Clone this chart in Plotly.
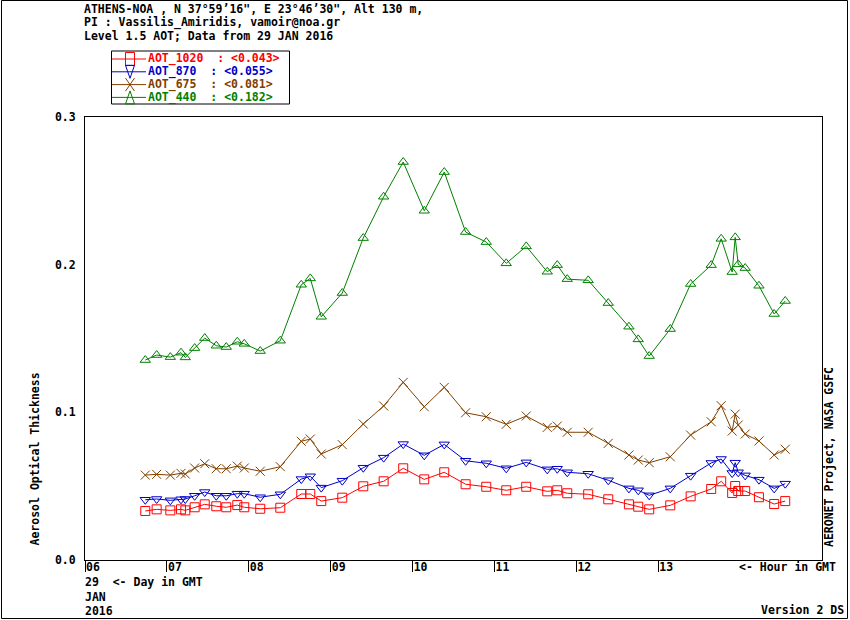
import plotly.graph_objects as go

# measurement times (hour GMT, 29 JAN 2016)
hours = [6.736, 6.875, 7.042, 7.172, 7.225, 7.339, 7.462, 7.603, 7.725, 7.860,
         7.945, 8.140, 8.385, 8.641, 8.751, 8.885, 9.142, 9.398, 9.647, 9.886,
         10.143, 10.387, 10.648, 10.900, 11.144, 11.388, 11.645, 11.767, 11.889, 12.145,
         12.390, 12.642, 12.756, 12.890, 13.147, 13.396, 13.647, 13.769, 13.903, 13.940,
         13.977, 14.062, 14.230, 14.416, 14.551]

aot_1020 = [0.0332, 0.0343, 0.0336, 0.0343, 0.0336, 0.0357, 0.0377, 0.0364, 0.0357, 0.0372,
            0.0357, 0.0347, 0.0354, 0.0447, 0.0447, 0.0399, 0.0422, 0.0499, 0.0533, 0.0621,
            0.0546, 0.0594, 0.0513, 0.0496, 0.0472, 0.0496, 0.0465, 0.0472, 0.0452, 0.0445,
            0.0411, 0.0377, 0.0361, 0.0343, 0.0370, 0.0431, 0.0481, 0.0533, 0.0454, 0.0501,
            0.0467, 0.0467, 0.0425, 0.0379, 0.0399]

aot_870 = [0.0408, 0.0413, 0.0404, 0.0411, 0.0413, 0.0435, 0.0460, 0.0435, 0.0435, 0.0449,
           0.0449, 0.0425, 0.0445, 0.0548, 0.0567, 0.0490, 0.0537, 0.0625, 0.0693, 0.0785,
           0.0709, 0.0783, 0.0672, 0.0655, 0.0621, 0.0661, 0.0614, 0.0618, 0.0594, 0.0584,
           0.0540, 0.0485, 0.0472, 0.0438, 0.0485, 0.0571, 0.0657, 0.0684, 0.0589, 0.0659,
           0.0594, 0.0573, 0.0544, 0.0485, 0.0517]

aot_675 = [0.0575, 0.0580, 0.0575, 0.0587, 0.0582, 0.0623, 0.0652, 0.0618, 0.0618, 0.0636,
           0.0623, 0.0601, 0.0632, 0.0804, 0.0819, 0.0718, 0.0781, 0.0921, 0.1043, 0.1203,
           0.1038, 0.1169, 0.0997, 0.0970, 0.0919, 0.0975, 0.0898, 0.0907, 0.0865, 0.0865,
           0.0790, 0.0711, 0.0677, 0.0659, 0.0699, 0.0846, 0.0936, 0.1045, 0.0873, 0.0988,
           0.0914, 0.0853, 0.0806, 0.0711, 0.0750]

aot_440 = [0.1354, 0.1388, 0.1374, 0.1404, 0.1372, 0.1435, 0.1503, 0.1451, 0.1442, 0.1478,
           0.1464, 0.1415, 0.1485, 0.1864, 0.1907, 0.1647, 0.1808, 0.2180, 0.2460, 0.2695,
           0.2365, 0.2627, 0.2221, 0.2153, 0.2009, 0.2124, 0.1952, 0.1997, 0.1902, 0.1894,
           0.1740, 0.1580, 0.1494, 0.1381, 0.1564, 0.1869, 0.1997, 0.2175, 0.1950, 0.2185,
           0.2002, 0.1977, 0.1857, 0.1666, 0.1754]

names = ['AOT_1020', 'AOT_870', 'AOT_675', 'AOT_440']
means = ['0.043', '0.055', '0.081', '0.182']
series = [aot_1020, aot_870, aot_675, aot_440]
colors = ['#ff0000', '#0000c8', '#804000', '#008000']
symbols = ['square-open', 'triangle-down-open', 'x-thin-open', 'triangle-up-open']

xtick_vals = [6, 7, 8, 9, 10, 11, 12, 13]
xtick_text = ['06', '07', '08', '09', '10', '11', '12', '13']
ytick_vals = [0.0, 0.1, 0.2, 0.3]
ytick_text = ['0.0', '0.1', '0.2', '0.3']

header = ['ATHENS-NOA , N 37°59’16", E 23°46’30", Alt 130 m,',
          'PI : Vassilis_Amiridis, vamoir@noa.gr',
          'Level 1.5 AOT; Data from 29 JAN 2016']

# figure geometry in pixels
W, H = 850, 620
L, R, T, B = 85, 28, 117, 60
PW, PH = W - L - R, H - T - B
FONT = 'DejaVu Sans Mono'
FS = 11.5


def px(x):
    return (x - L) / PW


def py(y):
    return (H - B - y) / PH


fig = go.Figure()
for name, vals, c, s in zip(names, series, colors, symbols):
    fig.add_trace(go.Scatter(
        x=hours, y=vals, name=name, mode='lines+markers',
        line=dict(color=c, width=1),
        marker=dict(symbol=s, size=9, color=c, line=dict(color=c, width=1)),
        showlegend=False,
    ))

shapes = []
annotations = []

# outer frame
shapes.append(dict(type='rect', xref='paper', yref='paper',
                   x0=px(1.5), x1=px(847.5), y0=py(0.5), y1=py(618.5),
                   line=dict(color='black', width=1)))

# header lines
for i, txt in enumerate(header):
    annotations.append(dict(text=txt, xref='paper', yref='paper', x=px(82), y=py(9 + 13.3 * i),
                            xanchor='left', yanchor='middle', showarrow=False))

# hand-made legend box
shapes.append(dict(type='rect', xref='paper', yref='paper',
                   x0=px(111.5), x1=px(289.5), y0=py(51), y1=py(104),
                   line=dict(color='black', width=1)))
cx, hw, hh = 130, 4.5, 6.5
for i, (name, m, c) in enumerate(zip(names, means, colors)):
    cy = 59 + 12.8 * i
    shapes.append(dict(type='line', xref='paper', yref='paper',
                       x0=px(112), x1=px(146), y0=py(cy), y1=py(cy),
                       line=dict(color=c, width=1)))
    if i == 0:
        path = 'M{},{} L{},{} L{},{} L{},{} Z'.format(px(cx - hw), py(cy - hh), px(cx + hw), py(cy - hh),
                                                        px(cx + hw), py(cy + hh), px(cx - hw), py(cy + hh))
    elif i == 1:
        path = 'M{},{} L{},{} L{},{} Z'.format(px(cx - hw), py(cy - hh), px(cx + hw), py(cy - hh),
                                                px(cx), py(cy + hh))
    elif i == 2:
        path = 'M{},{} L{},{} M{},{} L{},{}'.format(px(cx - hw), py(cy - hh), px(cx + hw), py(cy + hh),
                                                    px(cx - hw), py(cy + hh), px(cx + hw), py(cy - hh))
    else:
        path = 'M{},{} L{},{} L{},{} Z'.format(px(cx - hw), py(cy + hh), px(cx + hw), py(cy + hh),
                                                px(cx), py(cy - hh))
    shapes.append(dict(type='path', xref='paper', yref='paper', path=path,
                       line=dict(color=c, width=1)))
    label = '{}\u00a0\u00a0: &lt;{}&gt;'.format(name, m)
    annotations.append(dict(text=label, xref='paper', yref='paper', x=px(145.5), y=py(cy),
                            xanchor='left', yanchor='middle', showarrow=False,
                            font=dict(color=c)))

# side and bottom texts
annotations += [
    dict(text='Aerosol Optical Thickness', xref='paper', yref='paper', x=px(34), y=py(548),
         xanchor='center', yanchor='bottom', textangle=-90, showarrow=False),
    dict(text='AERONET Project, NASA GSFC', xref='paper', yref='paper', x=px(829), y=py(549),
         xanchor='center', yanchor='bottom', textangle=-90, showarrow=False),
    dict(text='&lt;- Hour in GMT', xref='paper', yref='paper', x=px(838), y=py(567),
         xanchor='right', yanchor='middle', showarrow=False),
    dict(text='29\u00a0\u00a0&lt;- Day in GMT', xref='paper', yref='paper', x=px(83), y=py(582),
         xanchor='left', yanchor='middle', showarrow=False),
    dict(text='JAN', xref='paper', yref='paper', x=px(83), y=py(597),
         xanchor='left', yanchor='middle', showarrow=False),
    dict(text='2016', xref='paper', yref='paper', x=px(83), y=py(611),
         xanchor='left', yanchor='middle', showarrow=False),
    dict(text='Version 2 DS', xref='paper', yref='paper', x=px(846), y=py(610),
         xanchor='right', yanchor='middle', showarrow=False),
]

fig.update_layout(
    width=W, height=H,
    margin=dict(l=L, r=R, t=T, b=B),
    paper_bgcolor='white', plot_bgcolor='white',
    font=dict(family=FONT, size=FS, color='black', weight='bold'),
    shapes=shapes, annotations=annotations,
    xaxis=dict(range=[6, 15], tickvals=xtick_vals, ticktext=xtick_text,
               showline=True, mirror=True, linecolor='black', linewidth=1,
               showgrid=False, zeroline=False,
               ticks='outside', ticklen=11, tickcolor='black', tickwidth=1,
               ticklabelshift=8, ticklabelstandoff=-15),
    yaxis=dict(range=[0, 0.3], tickvals=ytick_vals, ticktext=ytick_text,
               showline=True, mirror=True, linecolor='black', linewidth=1,
               showgrid=False, zeroline=False, ticks='',
               ticklabelstandoff=6),
)

# the page's default body margin would shift the figure by 8 px
fig.write_html('out.html', config={'displayModeBar': False},
               post_script="document.body.style.margin = '0';")
